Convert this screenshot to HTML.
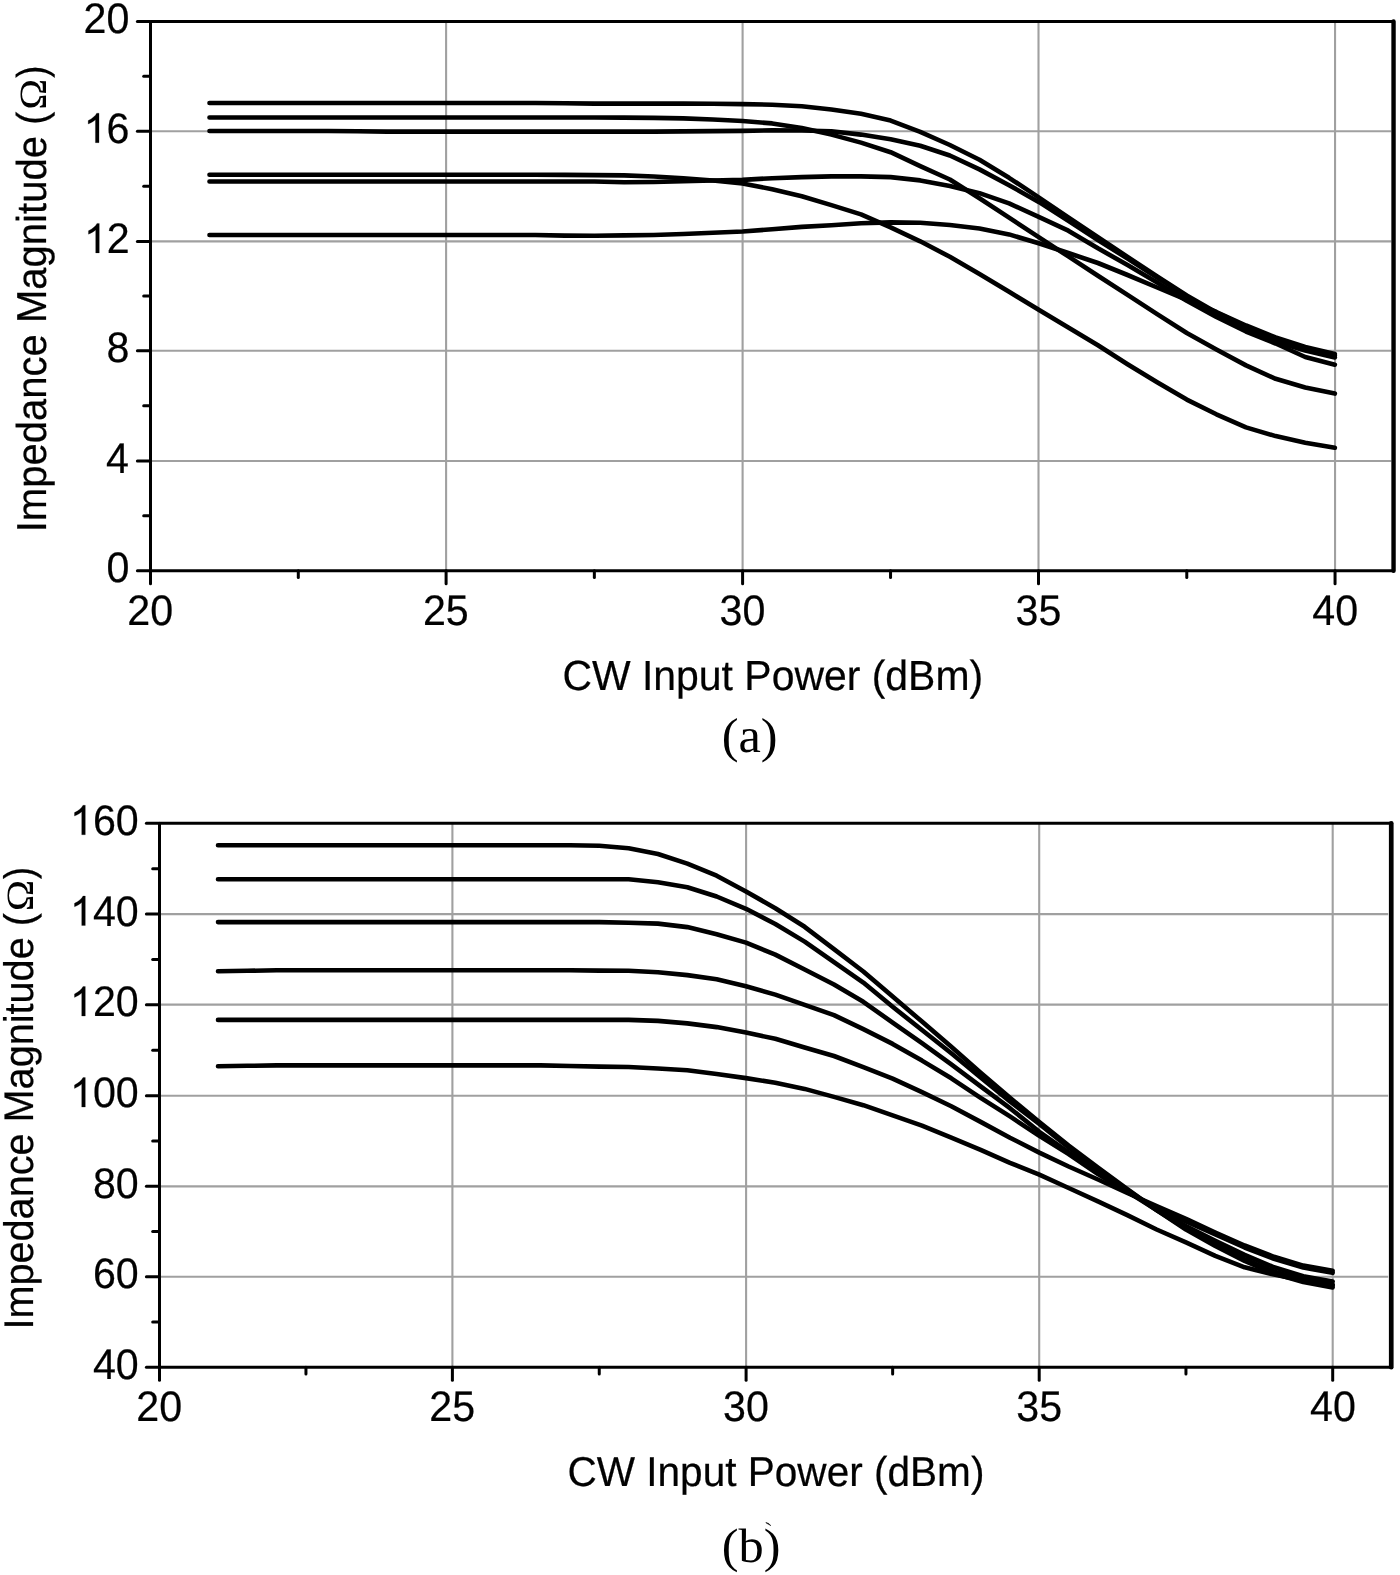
<!DOCTYPE html>
<html><head><meta charset="utf-8"><title>Impedance Magnitude vs CW Input Power</title>
<style>
html,body{margin:0;padding:0;background:#fff;}
body{width:1400px;height:1575px;overflow:hidden;}
svg{display:block;}
text{font-kerning:none;text-rendering:geometricPrecision;}
.s{font-family:"Liberation Sans",sans-serif;font-size:40px;fill:#000;stroke:#000;stroke-width:0.22px;}
.om{font-family:"Liberation Serif",serif;font-size:40px;fill:#000;}
.r{font-family:"Liberation Serif",serif;font-size:40px;fill:#000;}
</style></head><body>
<svg width="1400" height="1575" viewBox="0 0 1400 1575">
<rect x="0" y="0" width="1400" height="1575" fill="#fff"/>
<g id="plot-a">
<line x1="446.1" y1="21.5" x2="446.1" y2="570.7" stroke="#a0a0a0" stroke-width="2.1"/>
<line x1="742.6" y1="21.5" x2="742.6" y2="570.7" stroke="#a0a0a0" stroke-width="2.1"/>
<line x1="1038.5" y1="21.5" x2="1038.5" y2="570.7" stroke="#a0a0a0" stroke-width="2.1"/>
<line x1="1335.05" y1="21.5" x2="1335.05" y2="570.7" stroke="#a0a0a0" stroke-width="2.1"/>
<line x1="150.5" y1="131.2" x2="1391.4" y2="131.2" stroke="#a0a0a0" stroke-width="2.1"/>
<line x1="150.5" y1="241.4" x2="1391.4" y2="241.4" stroke="#a0a0a0" stroke-width="2.1"/>
<line x1="150.5" y1="350.7" x2="1391.4" y2="350.7" stroke="#a0a0a0" stroke-width="2.1"/>
<line x1="150.5" y1="461" x2="1391.4" y2="461" stroke="#a0a0a0" stroke-width="2.1"/>
<path d="M209.48 103L239.09 103L268.71 103L298.32 103L327.94 103L357.55 103L387.17 103L416.78 103L446.4 103L476.01 103L505.63 103L535.25 103L564.86 103.3L594.47 103.6L624.09 103.6L653.7 103.6L683.32 103.6L712.93 103.8L742.55 104.1L772.16 104.7L801.78 106.3L831.39 109.5L861.01 113.8L890.62 120.6L920.24 131.8L949.85 145L979.47 159.8L1009.08 177.8L1038.7 197.3L1068.32 217.3L1097.93 237.2L1127.55 257L1157.16 276.5L1186.77 295.5L1216.39 312.5L1246 326.5L1275.62 339.5L1305.23 349L1334.85 355.8" fill="none" stroke="#000" stroke-width="4.6" stroke-linecap="round" stroke-linejoin="round"/>
<path d="M209.48 117.5L239.09 117.5L268.71 117.5L298.32 117.5L327.94 117.5L357.55 117.5L387.17 117.5L416.78 117.5L446.4 117.5L476.01 117.5L505.63 117.5L535.25 117.5L564.86 117.5L594.47 117.5L624.09 117.6L653.7 117.9L683.32 118.4L712.93 119.5L742.55 121L772.16 123.4L801.78 128.1L831.39 134.6L861.01 142.6L890.62 152.2L920.24 166.1L949.85 179.5L979.47 198.2L1009.08 217.7L1038.7 237.2L1068.32 256.4L1097.93 275.7L1127.55 294.9L1157.16 314.1L1186.77 333L1216.39 349.6L1246 365.4L1275.62 378.8L1305.23 387.5L1334.85 393.6" fill="none" stroke="#000" stroke-width="4.6" stroke-linecap="round" stroke-linejoin="round"/>
<path d="M209.48 131L239.09 131L268.71 131L298.32 131L327.94 131L357.55 131.3L387.17 131.6L416.78 131.6L446.4 131.6L476.01 131.6L505.63 131.6L535.25 131.6L564.86 131.6L594.47 131.6L624.09 131.6L653.7 131.6L683.32 131.4L712.93 131.1L742.55 130.9L772.16 130.3L801.78 130.5L831.39 131.2L861.01 134.6L890.62 139.2L920.24 145.7L949.85 155.5L979.47 169.4L1009.08 185.2L1038.7 201.9L1068.32 220.7L1097.93 240L1127.55 258.6L1157.16 277.5L1186.77 296.5L1216.39 314L1246 328.5L1275.62 341.5L1305.23 350.5L1334.85 357.5" fill="none" stroke="#000" stroke-width="4.6" stroke-linecap="round" stroke-linejoin="round"/>
<path d="M209.48 174.8L239.09 174.8L268.71 174.8L298.32 174.8L327.94 174.8L357.55 174.8L387.17 174.8L416.78 174.8L446.4 174.8L476.01 174.8L505.63 174.8L535.25 174.8L564.86 174.9L594.47 175.1L624.09 175.4L653.7 176.5L683.32 178.2L712.93 180.5L742.55 183.4L772.16 189.3L801.78 196.2L831.39 205.1L861.01 214.4L890.62 227.4L920.24 241.3L949.85 256.8L979.47 273.9L1009.08 291.8L1038.7 309.8L1068.32 327.4L1097.93 345.2L1127.55 364.2L1157.16 382.3L1186.77 399.6L1216.39 414.3L1246 427.4L1275.62 436.1L1305.23 442.8L1334.85 447.8" fill="none" stroke="#000" stroke-width="4.6" stroke-linecap="round" stroke-linejoin="round"/>
<path d="M209.48 181.5L239.09 181.5L268.71 181.5L298.32 181.5L327.94 181.5L357.55 181.5L387.17 181.5L416.78 181.5L446.4 181.5L476.01 181.5L505.63 181.5L535.25 181.5L564.86 181.5L594.47 181.5L624.09 182.3L653.7 182L683.32 181.2L712.93 180.5L742.55 179.9L772.16 178.2L801.78 177.1L831.39 176.4L861.01 176.4L890.62 177.1L920.24 180.4L949.85 186L979.47 193.2L1009.08 203.4L1038.7 216.8L1068.32 230.7L1097.93 248.3L1127.55 265L1157.16 282.5L1186.77 300.8L1216.39 317L1246 331.5L1275.62 343.5L1305.23 357L1334.85 364.7" fill="none" stroke="#000" stroke-width="4.6" stroke-linecap="round" stroke-linejoin="round"/>
<path d="M209.48 235L239.09 235L268.71 235L298.32 235L327.94 235L357.55 235L387.17 235L416.78 235L446.4 235L476.01 235L505.63 235L535.25 235L564.86 235.6L594.47 235.8L624.09 235.4L653.7 235L683.32 234L712.93 232.8L742.55 231.5L772.16 229.3L801.78 226.9L831.39 225.2L861.01 223.3L890.62 222.4L920.24 222.8L949.85 225L979.47 228.5L1009.08 234.4L1038.7 243.3L1068.32 253L1097.93 263L1127.55 275L1157.16 287.5L1186.77 300L1216.39 312L1246 325.5L1275.62 337.5L1305.23 347L1334.85 354" fill="none" stroke="#000" stroke-width="4.6" stroke-linecap="round" stroke-linejoin="round"/>
<line x1="150.5" y1="21.5" x2="150.5" y2="570.7" stroke="#000" stroke-width="3"/>
<line x1="1393.55" y1="21.5" x2="1393.55" y2="570.7" stroke="#000" stroke-width="4.4" stroke-linecap="round"/>
<line x1="150.5" y1="21.5" x2="1393.55" y2="21.5" stroke="#000" stroke-width="3"/>
<line x1="150.5" y1="570.7" x2="1393.55" y2="570.7" stroke="#000" stroke-width="3"/>
<line x1="137.4" y1="21.5" x2="150.5" y2="21.5" stroke="#000" stroke-width="3" stroke-linecap="round"/>
<line x1="137.4" y1="131.2" x2="150.5" y2="131.2" stroke="#000" stroke-width="3" stroke-linecap="round"/>
<line x1="137.4" y1="241.4" x2="150.5" y2="241.4" stroke="#000" stroke-width="3" stroke-linecap="round"/>
<line x1="137.4" y1="350.7" x2="150.5" y2="350.7" stroke="#000" stroke-width="3" stroke-linecap="round"/>
<line x1="137.4" y1="461" x2="150.5" y2="461" stroke="#000" stroke-width="3" stroke-linecap="round"/>
<line x1="137.4" y1="570.7" x2="150.5" y2="570.7" stroke="#000" stroke-width="3" stroke-linecap="round"/>
<line x1="143.7" y1="76.35" x2="150.5" y2="76.35" stroke="#000" stroke-width="3" stroke-linecap="round"/>
<line x1="143.7" y1="186.3" x2="150.5" y2="186.3" stroke="#000" stroke-width="3" stroke-linecap="round"/>
<line x1="143.7" y1="296.05" x2="150.5" y2="296.05" stroke="#000" stroke-width="3" stroke-linecap="round"/>
<line x1="143.7" y1="405.85" x2="150.5" y2="405.85" stroke="#000" stroke-width="3" stroke-linecap="round"/>
<line x1="143.7" y1="515.85" x2="150.5" y2="515.85" stroke="#000" stroke-width="3" stroke-linecap="round"/>
<line x1="150.5" y1="570.7" x2="150.5" y2="583.8" stroke="#000" stroke-width="3" stroke-linecap="round"/>
<line x1="446.1" y1="570.7" x2="446.1" y2="583.8" stroke="#000" stroke-width="3" stroke-linecap="round"/>
<line x1="742.6" y1="570.7" x2="742.6" y2="583.8" stroke="#000" stroke-width="3" stroke-linecap="round"/>
<line x1="1038.5" y1="570.7" x2="1038.5" y2="583.8" stroke="#000" stroke-width="3" stroke-linecap="round"/>
<line x1="1335.05" y1="570.7" x2="1335.05" y2="583.8" stroke="#000" stroke-width="3" stroke-linecap="round"/>
<line x1="298.3" y1="570.7" x2="298.3" y2="577.5" stroke="#000" stroke-width="3" stroke-linecap="round"/>
<line x1="594.35" y1="570.7" x2="594.35" y2="577.5" stroke="#000" stroke-width="3" stroke-linecap="round"/>
<line x1="890.55" y1="570.7" x2="890.55" y2="577.5" stroke="#000" stroke-width="3" stroke-linecap="round"/>
<line x1="1186.78" y1="570.7" x2="1186.78" y2="577.5" stroke="#000" stroke-width="3" stroke-linecap="round"/>
<g opacity="0.999">
<text transform="translate(83.48 33) scale(1.0300 1.0683)" class="s">20</text>
<path transform="translate(83.68 142.7) scale(0.02012 -0.02005)" d="M763 0H583V1147Q518 1085 412.5 1023T223 930V1104Q374 1175 487 1276T647 1472H763Z" fill="#000" stroke="#000" stroke-width="11"/>
<text transform="translate(106.6 142.7) scale(1.0300 1.0683)" class="s">6</text>
<path transform="translate(83.95 252.9) scale(0.02012 -0.02005)" d="M763 0H583V1147Q518 1085 412.5 1023T223 930V1104Q374 1175 487 1276T647 1472H763Z" fill="#000" stroke="#000" stroke-width="11"/>
<text transform="translate(106.86 252.9) scale(1.0300 1.0683)" class="s">2</text>
<text transform="translate(106.58 362.2) scale(1.0300 1.0683)" class="s">8</text>
<text transform="translate(105.99 472.5) scale(1.0300 1.0683)" class="s">4</text>
<text transform="translate(106.4 582.2) scale(1.0300 1.0683)" class="s">0</text>
<text transform="translate(127.26 624.5) scale(1.0300 1.0683)" class="s">20</text>
<text transform="translate(422.92 624.5) scale(1.0300 1.0683)" class="s">25</text>
<text transform="translate(719.61 624.5) scale(1.0300 1.0683)" class="s">30</text>
<text transform="translate(1015.57 624.5) scale(1.0300 1.0683)" class="s">35</text>
<text transform="translate(1312.37 624.5) scale(1.0300 1.0683)" class="s">40</text>
<text transform="translate(562.42 690.4) scale(1.0231 1.0541)" class="s">CW Input Power (dBm)</text>
<text transform="translate(45.6 532.3) rotate(-90) scale(1.0011 1.0470)" class="s">Impedance Magnitude (</text>
<text transform="translate(45.7 109.76) rotate(-90) scale(1.0435 0.9628)" class="om">&#937;</text>
<text transform="translate(45.6 78.12) rotate(-90) scale(0.9382 1.0470)" class="s">)</text>
<text transform="translate(721.69 752) scale(1.2598 1.2251)" class="r">(a)</text>
</g>
</g>
<g id="plot-b">
<line x1="452.4" y1="823.35" x2="452.4" y2="1367.2" stroke="#a0a0a0" stroke-width="2.1"/>
<line x1="746.1" y1="823.35" x2="746.1" y2="1367.2" stroke="#a0a0a0" stroke-width="2.1"/>
<line x1="1039.2" y1="823.35" x2="1039.2" y2="1367.2" stroke="#a0a0a0" stroke-width="2.1"/>
<line x1="1332.7" y1="823.35" x2="1332.7" y2="1367.2" stroke="#a0a0a0" stroke-width="2.1"/>
<line x1="159.5" y1="914.1" x2="1388.2" y2="914.1" stroke="#a0a0a0" stroke-width="2.1"/>
<line x1="159.5" y1="1004.65" x2="1388.2" y2="1004.65" stroke="#a0a0a0" stroke-width="2.1"/>
<line x1="159.5" y1="1095.7" x2="1388.2" y2="1095.7" stroke="#a0a0a0" stroke-width="2.1"/>
<line x1="159.5" y1="1186.35" x2="1388.2" y2="1186.35" stroke="#a0a0a0" stroke-width="2.1"/>
<line x1="159.5" y1="1276.7" x2="1388.2" y2="1276.7" stroke="#a0a0a0" stroke-width="2.1"/>
<path d="M218 845.3L247.34 845.3L276.67 845.3L306 845.3L335.33 845.3L364.66 845.3L394 845.3L423.33 845.3L452.66 845.3L481.99 845.3L511.32 845.3L540.66 845.3L569.99 845.3L599.32 845.8L628.65 848.2L657.98 854L687.32 863.6L716.65 875.7L745.98 891.5L775.31 908.2L804.64 926.8L833.98 949.2L863.31 971.5L892.64 996.6L921.97 1021.6L951.3 1046.7L980.64 1072.7L1009.97 1097.8L1039.3 1122L1068.63 1145.5L1097.96 1167.5L1127.3 1189L1156.63 1210L1185.96 1229.5L1215.29 1246L1244.62 1261L1273.96 1273.5L1303.29 1282L1332.62 1287.4" fill="none" stroke="#000" stroke-width="4.6" stroke-linecap="round" stroke-linejoin="round"/>
<path d="M218 879.3L247.34 879.3L276.67 879.3L306 879.3L335.33 879.3L364.66 879.3L394 879.3L423.33 879.3L452.66 879.3L481.99 879.3L511.32 879.3L540.66 879.3L569.99 879.3L599.32 879.3L628.65 879.3L657.98 882.2L687.32 887.2L716.65 896.5L745.98 908.8L775.31 924L804.64 941.6L833.98 962.2L863.31 982.6L892.64 1006.8L921.97 1030L951.3 1053.2L980.64 1077.4L1009.97 1101.5L1039.3 1124L1068.63 1147.5L1097.96 1169L1127.3 1190L1156.63 1210L1185.96 1228.5L1215.29 1244.5L1244.62 1259L1273.96 1271.5L1303.29 1280L1332.62 1285.5" fill="none" stroke="#000" stroke-width="4.6" stroke-linecap="round" stroke-linejoin="round"/>
<path d="M218 922.1L247.34 922.1L276.67 922.1L306 922.1L335.33 922.1L364.66 922.1L394 922.1L423.33 922.1L452.66 922.1L481.99 922.1L511.32 922.1L540.66 922.1L569.99 922.1L599.32 922.1L628.65 922.7L657.98 923.6L687.32 927.1L716.65 934.2L745.98 942.6L775.31 954.6L804.64 969.5L833.98 984.5L863.31 1001.8L892.64 1022.6L921.97 1043.2L951.3 1064.3L980.64 1086.3L1009.97 1108.2L1039.3 1131.8L1068.63 1152.3L1097.96 1171.5L1127.3 1191.5L1156.63 1210L1185.96 1226L1215.29 1240.8L1244.62 1254.8L1273.96 1267.3L1303.29 1276.2L1332.62 1281.5" fill="none" stroke="#000" stroke-width="4.6" stroke-linecap="round" stroke-linejoin="round"/>
<path d="M218 971.3L247.34 970.8L276.67 970.3L306 970.3L335.33 970.3L364.66 970.3L394 970.3L423.33 970.3L452.66 970.3L481.99 970.3L511.32 970.3L540.66 970.3L569.99 970.3L599.32 970.6L628.65 970.8L657.98 972.3L687.32 975.1L716.65 979.3L745.98 986.2L775.31 994.6L804.64 1004.8L833.98 1015.1L863.31 1029.1L892.64 1043.9L921.97 1060.6L951.3 1078.3L980.64 1097.8L1009.97 1116.4L1039.3 1135.8L1068.63 1154L1097.96 1174L1127.3 1192L1156.63 1208L1185.96 1221.5L1215.29 1234.5L1244.62 1247.5L1273.96 1258.8L1303.29 1267.6L1332.62 1272.8" fill="none" stroke="#000" stroke-width="4.6" stroke-linecap="round" stroke-linejoin="round"/>
<path d="M218 1019.9L247.34 1019.9L276.67 1019.9L306 1019.9L335.33 1019.9L364.66 1019.9L394 1019.9L423.33 1019.9L452.66 1019.9L481.99 1019.9L511.32 1019.9L540.66 1019.9L569.99 1019.9L599.32 1019.9L628.65 1019.9L657.98 1020.9L687.32 1023.4L716.65 1027.1L745.98 1032.6L775.31 1038.8L804.64 1047.5L833.98 1056L863.31 1067.1L892.64 1078.7L921.97 1092.2L951.3 1106.3L980.64 1121.9L1009.97 1137.7L1039.3 1152.6L1068.63 1166.5L1097.96 1179.5L1127.3 1193L1156.63 1206L1185.96 1218.8L1215.29 1232.5L1244.62 1245.5L1273.96 1256.8L1303.29 1265.6L1332.62 1270.8" fill="none" stroke="#000" stroke-width="4.6" stroke-linecap="round" stroke-linejoin="round"/>
<path d="M218 1066.2L247.34 1065.8L276.67 1065.4L306 1065.4L335.33 1065.4L364.66 1065.4L394 1065.4L423.33 1065.4L452.66 1065.4L481.99 1065.4L511.32 1065.4L540.66 1065.4L569.99 1066L599.32 1066.6L628.65 1067L657.98 1068.5L687.32 1070.3L716.65 1074L745.98 1078.1L775.31 1082.8L804.64 1088.9L833.98 1096.9L863.31 1105.2L892.64 1115.4L921.97 1125.6L951.3 1137.7L980.64 1149.8L1009.97 1162.8L1039.3 1174.6L1068.63 1188L1097.96 1201.3L1127.3 1215.2L1156.63 1229.5L1185.96 1242.3L1215.29 1255.8L1244.62 1267.3L1273.96 1274.5L1303.29 1280.5L1332.62 1284.5" fill="none" stroke="#000" stroke-width="4.6" stroke-linecap="round" stroke-linejoin="round"/>
<line x1="159.5" y1="823.35" x2="159.5" y2="1367.2" stroke="#000" stroke-width="3"/>
<line x1="1391.25" y1="823.35" x2="1391.25" y2="1367.2" stroke="#000" stroke-width="4.7" stroke-linecap="round"/>
<line x1="159.5" y1="823.35" x2="1391.25" y2="823.35" stroke="#000" stroke-width="3"/>
<line x1="159.5" y1="1367.2" x2="1391.25" y2="1367.2" stroke="#000" stroke-width="3"/>
<line x1="146.4" y1="823.35" x2="159.5" y2="823.35" stroke="#000" stroke-width="3" stroke-linecap="round"/>
<line x1="146.4" y1="914.1" x2="159.5" y2="914.1" stroke="#000" stroke-width="3" stroke-linecap="round"/>
<line x1="146.4" y1="1004.65" x2="159.5" y2="1004.65" stroke="#000" stroke-width="3" stroke-linecap="round"/>
<line x1="146.4" y1="1095.7" x2="159.5" y2="1095.7" stroke="#000" stroke-width="3" stroke-linecap="round"/>
<line x1="146.4" y1="1186.35" x2="159.5" y2="1186.35" stroke="#000" stroke-width="3" stroke-linecap="round"/>
<line x1="146.4" y1="1276.7" x2="159.5" y2="1276.7" stroke="#000" stroke-width="3" stroke-linecap="round"/>
<line x1="146.4" y1="1367.2" x2="159.5" y2="1367.2" stroke="#000" stroke-width="3" stroke-linecap="round"/>
<line x1="152.7" y1="868.73" x2="159.5" y2="868.73" stroke="#000" stroke-width="3" stroke-linecap="round"/>
<line x1="152.7" y1="959.38" x2="159.5" y2="959.38" stroke="#000" stroke-width="3" stroke-linecap="round"/>
<line x1="152.7" y1="1050.17" x2="159.5" y2="1050.17" stroke="#000" stroke-width="3" stroke-linecap="round"/>
<line x1="152.7" y1="1141.03" x2="159.5" y2="1141.03" stroke="#000" stroke-width="3" stroke-linecap="round"/>
<line x1="152.7" y1="1231.53" x2="159.5" y2="1231.53" stroke="#000" stroke-width="3" stroke-linecap="round"/>
<line x1="152.7" y1="1321.95" x2="159.5" y2="1321.95" stroke="#000" stroke-width="3" stroke-linecap="round"/>
<line x1="159.5" y1="1367.2" x2="159.5" y2="1380.3" stroke="#000" stroke-width="3" stroke-linecap="round"/>
<line x1="452.4" y1="1367.2" x2="452.4" y2="1380.3" stroke="#000" stroke-width="3" stroke-linecap="round"/>
<line x1="746.1" y1="1367.2" x2="746.1" y2="1380.3" stroke="#000" stroke-width="3" stroke-linecap="round"/>
<line x1="1039.2" y1="1367.2" x2="1039.2" y2="1380.3" stroke="#000" stroke-width="3" stroke-linecap="round"/>
<line x1="1332.7" y1="1367.2" x2="1332.7" y2="1380.3" stroke="#000" stroke-width="3" stroke-linecap="round"/>
<line x1="305.95" y1="1367.2" x2="305.95" y2="1374" stroke="#000" stroke-width="3" stroke-linecap="round"/>
<line x1="599.25" y1="1367.2" x2="599.25" y2="1374" stroke="#000" stroke-width="3" stroke-linecap="round"/>
<line x1="892.65" y1="1367.2" x2="892.65" y2="1374" stroke="#000" stroke-width="3" stroke-linecap="round"/>
<line x1="1185.95" y1="1367.2" x2="1185.95" y2="1374" stroke="#000" stroke-width="3" stroke-linecap="round"/>
<g opacity="0.999">
<path transform="translate(69.97 834.75) scale(0.02012 -0.02005)" d="M763 0H583V1147Q518 1085 412.5 1023T223 930V1104Q374 1175 487 1276T647 1472H763Z" fill="#000" stroke="#000" stroke-width="11"/>
<text transform="translate(92.88 834.75) scale(1.0300 1.0683)" class="s">60</text>
<path transform="translate(69.97 925.5) scale(0.02012 -0.02005)" d="M763 0H583V1147Q518 1085 412.5 1023T223 930V1104Q374 1175 487 1276T647 1472H763Z" fill="#000" stroke="#000" stroke-width="11"/>
<text transform="translate(92.88 925.5) scale(1.0300 1.0683)" class="s">40</text>
<path transform="translate(69.97 1016.05) scale(0.02012 -0.02005)" d="M763 0H583V1147Q518 1085 412.5 1023T223 930V1104Q374 1175 487 1276T647 1472H763Z" fill="#000" stroke="#000" stroke-width="11"/>
<text transform="translate(92.88 1016.05) scale(1.0300 1.0683)" class="s">20</text>
<path transform="translate(69.97 1107.1) scale(0.02012 -0.02005)" d="M763 0H583V1147Q518 1085 412.5 1023T223 930V1104Q374 1175 487 1276T647 1472H763Z" fill="#000" stroke="#000" stroke-width="11"/>
<text transform="translate(92.88 1107.1) scale(1.0300 1.0683)" class="s">00</text>
<text transform="translate(92.88 1197.75) scale(1.0300 1.0683)" class="s">80</text>
<text transform="translate(92.88 1288.1) scale(1.0300 1.0683)" class="s">60</text>
<text transform="translate(92.88 1378.6) scale(1.0300 1.0683)" class="s">40</text>
<text transform="translate(136.26 1420.9) scale(1.0300 1.0683)" class="s">20</text>
<text transform="translate(429.22 1420.9) scale(1.0300 1.0683)" class="s">25</text>
<text transform="translate(723.11 1420.9) scale(1.0300 1.0683)" class="s">30</text>
<text transform="translate(1016.27 1420.9) scale(1.0300 1.0683)" class="s">35</text>
<text transform="translate(1310.02 1420.9) scale(1.0300 1.0683)" class="s">40</text>
<text transform="translate(567.44 1486) scale(1.0140 1.0434)" class="s">CW Input Power (dBm)</text>
<text transform="translate(33.1 1329.56) rotate(-90) scale(0.9910 1.0344)" class="s">Impedance Magnitude (</text>
<text transform="translate(33.1 911.29) rotate(-90) scale(1.0592 0.9628)" class="om">&#937;</text>
<text transform="translate(33.1 879.22) rotate(-90) scale(0.9335 1.0344)" class="s">)</text>
<text transform="translate(721.69 1562) scale(1.2591 1.2106)" class="r">(b)</text>
<path d="M765.8 1522.6 Q768.5 1522.6 770.8 1525.6 Q768 1524.2 765.8 1522.6Z" fill="#000" stroke="#000" stroke-width="0.6"/>
</g>
</g>
</svg>
</body></html>
